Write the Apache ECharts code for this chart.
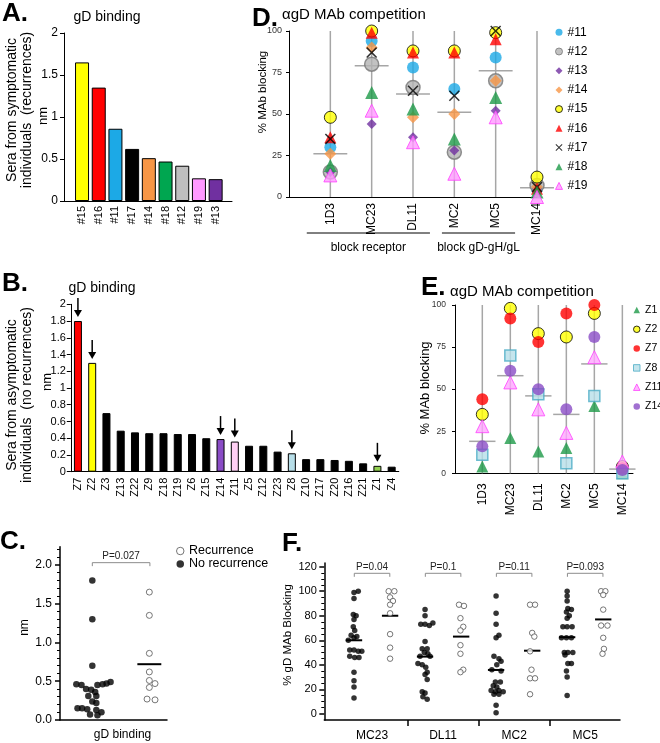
<!DOCTYPE html>
<html>
<head>
<meta charset="utf-8">
<script src="https://cdn.jsdelivr.net/npm/echarts@6.0.0/dist/echarts.min.js"></script>
<style>
html,body{margin:0;padding:0;background:#fff;}
#chart{width:660px;height:743px;}
</style>
</head>
<body>
<div id="chart"></div>
<script>
// ================= DATA =================
// Panel A: gD binding, sera from symptomatic individuals (recurrences)
const aCategories = ['#15','#16','#11','#17','#14','#18','#12','#19','#13'];
const aValues = [1.65,1.35,0.86,0.62,0.51,0.47,0.42,0.27,0.26];

// Panel B: gD binding, sera from asymptomatic individuals (no recurrences)
const bCategories = ['Z7','Z2','Z3','Z13','Z22','Z9','Z18','Z19','Z6','Z15','Z14','Z11','Z5','Z12','Z23','Z8','Z10','Z17','Z20','Z16','Z21','Z1','Z4'];
const bValues = [1.80,1.30,0.70,0.49,0.47,0.46,0.46,0.45,0.45,0.40,0.39,0.36,0.31,0.31,0.24,0.22,0.15,0.15,0.14,0.13,0.10,0.07,0.06];
const bArrowed = ['Z7','Z2','Z14','Z11','Z8','Z1'];

// Panel D: anti-gD MAb competition, recurrence sera
const dCategories = ['1D3','MC23','DL11','MC2','MC5','MC14'];
const dS11 = [30,94,78,65,84,5];
const dS12 = [15,80,66,27,70,7];
const dS13 = [15,44,36,28,52,5];
const dS14 = [26,90,48,50,70,6];
const dS15 = [48,100,88,88,99,12];
const dS16 = [36,99,87,87,95,5];
const dS17 = [35,87,64,61,100,6];
const dS18 = [19,63,53,35,60,3];
const dS19 = [13,52,33,14,48,0];
const dMean = [26,79,62,51,76,5.6];
const dGroupLabels = ['block receptor','block gD-gH/gL'];
const dGroupSpans = [[-0.57,2.41],[2.70,4.47]];

// Panel E: anti-gD MAb competition, non-recurrence sera
const eCategories = ['1D3','MC23','DL11','MC2','MC5','MC14'];
const eZ1 = [4,21,13,15,40,0];
const eZ2 = [35,98,83,81,95,4];
const eZ7 = [44,92,78,95,100,3];
const eZ8 = [11,70,47,6,46,0];
const eZ11 = [28,54,38,24,69,7];
const eZ14 = [16,61,50,38,81,2];
const eMean = [19,58,46,35,65,2.5];

// Panel C: gD binding by group (values = panels B and A), swarm offsets
const cGroupLabel = 'gD binding';
const cNoRecJitter = [0,0,0,0.32,0.25,0.18,-0.28,0.09,-0.19,-0.11,-0.02,0.05,-0.07,0.07,0,0.07,-0.26,-0.18,-0.09,0.07,0.16,-0.04,0.09];
const cRecJitter = [0,0,0,0,0,0.1,0,-0.04,0.1];
const cRecMean = 0.72;
const cPLabel = 'P=0.027';
const cYTicks = [0,0.5,1,1.5,2];

// Panel F: % gD MAb blocking by group
const fCategories = ['MC23','DL11','MC2','MC5'];
const fNoRecMC23 = [100,99,94,81,80,77,71,68,64,63,62,60,52,52,51,51,47,46,46,34,27,22,13];
const fNoRecDL11 = [85,80,74,73,73,72,59,53,53,50,49,47,47,41,40,38,34,32,28,18,17,14,12];
const fNoRecMC2  = [96,82,73,64,62,47,45,43,40,36,35,26,26,23,22,19,19,18,18,16,16,7,1];
const fNoRecMC5  = [100,96,92,86,85,83,80,78,71,71,71,62,62,62,50,50,50,48,41,41,35,30,15];
const fRecMC23 = [100,100,95,92,89,82,65,54,45];
const fRecDL11 = [89,88,78,71,68,56,49,36,34];
const fRecMC2  = [89,89,66,63,51,36,29,29,16];
const fRecMC5  = [100,100,97,85,72,72,62,53,49];
const fJitNoRecMC23 = [0.06,0,0,-0.01,0.03,0,-0.01,0.01,-0.04,0.04,0,-0.08,-0.06,0,0.06,0.11,-0.06,0.01,0.07,0,0,0,0];
const fJitNoRecDL11 = [0,0,0.11,-0.06,0,0.06,0,-0.04,0.03,-0.01,0.04,-0.07,0.07,-0.1,-0.04,0.01,0.03,0,0.03,-0.04,0,-0.03,0.03];
const fJitNoRecMC2  = [0,0,0,0.04,0,-0.03,0.04,0.07,0.01,-0.06,0.07,-0.01,0.06,-0.04,0.01,-0.07,0.04,-0.01,0.1,-0.03,0.04,0,0];
const fJitNoRecMC5  = [0,0,0,0.01,0.06,-0.01,0.03,0,-0.06,0,0.07,-0.08,-0.01,0.06,-0.04,0.01,0.08,-0.03,0.01,0.06,-0.01,0,0];
const fJitRecMC23 = [-0.02,0.06,0,0.04,0,0,0,0,0];
const fJitRecDL11 = [-0.03,0.04,-0.01,0.03,-0.01,-0.01,-0.01,0.03,-0.01];
const fJitRecMC2  = [-0.03,0.04,0,0.03,-0.03,-0.01,-0.03,0.04,-0.03];
const fJitRecMC5  = [-0.03,0.03,0,0,-0.03,0.06,0,0.01,-0.01];
const fMeanNoRec = [60,46.7,35.8,62.5];
const fMeanRec = [80,63,51.5,77];
const fPLabels = ['P=0.04','P=0.1','P=0.11','P=0.093'];
const fPLevel = 114.6;
const fYTicks = [0,20,40,60,80,100,120];

// ================= STYLES =================
const FONT = '"Liberation Sans", Arial, Helvetica, sans-serif';
const aColors = ['#ffff00','#ff0000','#1ca9e6','#000000','#f79646','#00a650','#bfbfbf','#ff99ff','#7030a0'];
const bHighlight = {Z7:'#ff0000', Z2:'#ffff00', Z14:'#8a4cc6', Z11:'#ffd0f4', Z8:'#b7dee8', Z1:'#92d050'};
const XPATH = 'path://M1,0L5,4L9,0L10,1L6,5L10,9L9,10L5,6L1,10L0,9L4,5L0,1Z';
const dStyle = [
  {name:'#11', data:dS11, symbol:'circle', size:12, item:{color:'#1ca9e6'}},
  {name:'#12', data:dS12, symbol:'circle', size:14, item:{color:'#b3b3b3', borderColor:'#777', borderWidth:1.5}},
  {name:'#13', data:dS13, symbol:'diamond', size:10, item:{color:'#7030a0'}},
  {name:'#14', data:dS14, symbol:'diamond', size:12, item:{color:'#f79646'}},
  {name:'#15', data:dS15, symbol:'circle', size:12, item:{color:'#ffff00', borderColor:'#000', borderWidth:1}},
  {name:'#16', data:dS16, symbol:'triangle', size:12, item:{color:'#ff0000'}},
  {name:'#17', data:dS17, symbol:XPATH, size:11, item:{color:'#000'}},
  {name:'#18', data:dS18, symbol:'triangle', size:13, item:{color:'#1e9a48'}},
  {name:'#19', data:dS19, symbol:'triangle', size:13, item:{color:'#ff99ff', borderColor:'#ff40ff', borderWidth:1}}
];
const eStyle = [
  {name:'Z1', data:eZ1, symbol:'triangle', size:12, item:{color:'#1e9a48'}},
  {name:'Z2', data:eZ2, symbol:'circle', size:12, item:{color:'#ffff00', borderColor:'#000', borderWidth:1}},
  {name:'Z7', data:eZ7, symbol:'circle', size:12, item:{color:'#ff0000'}},
  {name:'Z8', data:eZ8, symbol:'rect', size:11, item:{color:'#b7dee8', borderColor:'#4bacc6', borderWidth:1.5}},
  {name:'Z11', data:eZ11, symbol:'triangle', size:13, item:{color:'#ffa6ff', borderColor:'#ff40ff', borderWidth:1}},
  {name:'Z14', data:eZ14, symbol:'circle', size:12, item:{color:'#8a4cc6'}}
];

// ================= HELPERS =================
function txt(text, x, y, o) {
  o = o || {};
  const al = o.align || 'center';
  return {type:'text', x:x, y:y, rotation:o.rot || 0, silent:true, z:10,
    style:{text:text, fill:o.color || '#000',
      font:(o.weight || 'normal') + ' ' + (o.size || 12) + 'px ' + FONT,
      align:al, textAlign:al, verticalAlign:'middle', textVerticalAlign:'middle',
      lineHeight:o.lh}};
}
const ROT = Math.PI / 2;

function stemRender(halfW) {
  return function (params, api) {
    const i = api.value(0), m = api.value(1);
    const p0 = api.coord([i, 0]), p1 = api.coord([i, 100]);
    const a = api.coord([i - halfW, m]), b = api.coord([i + halfW, m]);
    const st = {stroke:'#a6a6a6', lineWidth:1.5};
    return {type:'group', children:[
      {type:'line', shape:{x1:p0[0], y1:p0[1], x2:p1[0], y2:p1[1]}, style:st},
      {type:'line', shape:{x1:a[0], y1:a[1], x2:b[0], y2:b[1]}, style:st}
    ]};
  };
}
function meanRender(halfW) {
  return function (params, api) {
    const x = api.value(0), m = api.value(1);
    const a = api.coord([x - halfW, m]), b = api.coord([x + halfW, m]);
    return {type:'line', shape:{x1:a[0], y1:a[1], x2:b[0], y2:b[1]}, style:{stroke:'#000', lineWidth:2}};
  };
}
function bracketRender(labels) {
  return function (params, api) {
    const a = api.coord([api.value(0), api.value(2)]), b = api.coord([api.value(1), api.value(2)]);
    return {type:'group', children:[
      {type:'polyline', shape:{points:[[a[0], a[1] + 3.5], [a[0], a[1]], [b[0], b[1]], [b[0], b[1] + 3.5]]},
        style:{stroke:'#8c8c8c', lineWidth:1, fill:null}},
      {type:'text', x:(a[0] + b[0]) / 2, y:a[1] - 6.5,
        style:{text:labels[params.dataIndex], fill:'#222', font:'10px ' + FONT, align:'center', verticalAlign:'middle'}}
    ]};
  };
}
function axisLineStyle(w) { return {show:true, onZero:false, lineStyle:{color:'#000', width:w || 1}}; }
const NOLINE = {show:false, onZero:false};
function legendItems(styles) {
  return styles.map(s => ({name:s.name, icon:s.symbol,
    itemStyle:Object.assign({}, s.item, s.item.borderWidth ? {borderWidth:1} : {})}));
}

// ================= OPTION =================
const grids = [
  {left:64, top:33, width:168, height:168},        // A
  {left:289, top:31, width:248, height:166},       // D
  {left:70.8, top:304.3, width:328, height:167.4}, // B
  {left:455, top:305, width:178, height:168.3},    // E
  {left:60, top:546.7, width:107, height:173.3},   // C
  {left:324.3, top:563, width:295.7, height:157}   // F
];

const xAxes = [
  {gridIndex:0, type:'value', min:-1.08, max:8.98, axisLine:axisLineStyle(1), axisTick:{show:false}, splitLine:{show:false},
    axisLabel:{customValues:aCategories.map((c, i) => i), formatter:v => aCategories[Math.round(v)], rotate:90, fontSize:11, margin:5, color:'#000'}},
  {gridIndex:1, type:'value', min:-1, max:5, axisLine:axisLineStyle(1), axisTick:{show:false}, splitLine:{show:false},
    axisLabel:{customValues:dCategories.map((c, i) => i), formatter:v => dCategories[Math.round(v)], rotate:90, fontSize:12, margin:6, color:'#000'}},
  {gridIndex:2, type:'category', data:bCategories, axisLine:axisLineStyle(1), axisTick:{show:false},
    axisLabel:{interval:0, rotate:90, fontSize:11, margin:6, color:'#000'}},
  {gridIndex:3, type:'value', min:-0.975, max:5.38, axisLine:axisLineStyle(1), axisTick:{show:false}, splitLine:{show:false},
    axisLabel:{customValues:eCategories.map((c, i) => i), formatter:v => eCategories[Math.round(v)], rotate:90, fontSize:12, margin:10, color:'#000'}},
  {gridIndex:4, type:'value', min:-0.567, max:1.31, axisLine:axisLineStyle(1.5), axisTick:{show:false}, splitLine:{show:false},
    axisLabel:{customValues:[0.53], formatter:() => cGroupLabel, fontSize:12, margin:9, color:'#000'}},
  {gridIndex:5, type:'value', min:-0.672, max:3.49, axisLine:axisLineStyle(1.5), splitLine:{show:false},
    axisTick:{show:true, customValues:[0.5,1.5,2.5], length:6, lineStyle:{color:'#000', width:1.5}},
    axisLabel:{customValues:fCategories.map((c, i) => i), formatter:v => fCategories[Math.round(v)], fontSize:12, margin:10, color:'#000'}}
];

const cMinor = []; for (let k = 1; k <= 22; k++) { if (k % 5) cMinor.push(k / 10); }
const fMinor = []; for (let k = 5; k <= 120; k += 5) { if (k % 20) fMinor.push(k); }

const yAxes = [
  {gridIndex:0, type:'value', position:'left', min:0, max:2, interval:0.5, axisLine:axisLineStyle(1), axisTick:{show:true, length:4, lineStyle:{color:'#000'}},
    splitLine:{show:false}, axisLabel:{fontSize:12, margin:6, color:'#000'}},
  {gridIndex:1, type:'value', position:'left', min:0, max:100, interval:25, axisLine:axisLineStyle(1), axisTick:{show:true, length:3, lineStyle:{color:'#000'}},
    splitLine:{show:false}, axisLabel:{fontSize:9, margin:7, color:'#333'}},
  {gridIndex:2, type:'value', position:'left', min:0, max:2, interval:0.2, axisLine:axisLineStyle(1), axisTick:{show:true, length:4, lineStyle:{color:'#000'}},
    splitLine:{show:false}, axisLabel:{fontSize:11, margin:5, color:'#000'}},
  {gridIndex:3, type:'value', position:'left', min:0, max:100, interval:25, axisLine:axisLineStyle(1), axisTick:{show:true, length:3, lineStyle:{color:'#000'}},
    splitLine:{show:false}, axisLabel:{fontSize:8.5, margin:9, color:'#333'}},
  {gridIndex:4, type:'value', position:'left', min:0, max:2.236, axisLine:axisLineStyle(1.5), splitLine:{show:false},
    axisTick:{show:true, customValues:cYTicks, length:5, lineStyle:{color:'#000', width:1.5}},
    axisLabel:{customValues:cYTicks, formatter:v => v.toFixed(1), fontSize:12, margin:8, color:'#000'}},
  {gridIndex:4, type:'value', position:'left', min:0, max:2.236, axisLine:NOLINE, splitLine:{show:false}, axisLabel:{show:false},
    axisTick:{show:true, customValues:cMinor, length:3, lineStyle:{color:'#000', width:1}}},
  {gridIndex:5, type:'value', position:'left', min:-5, max:123, axisLine:axisLineStyle(1.5), splitLine:{show:false},
    axisTick:{show:true, customValues:fYTicks, length:5, lineStyle:{color:'#000', width:1.5}},
    axisLabel:{customValues:fYTicks, fontSize:11, margin:7.5, color:'#000'}},
  {gridIndex:5, type:'value', position:'left', min:-5, max:123, axisLine:NOLINE, splitLine:{show:false}, axisLabel:{show:false},
    axisTick:{show:true, customValues:fMinor, length:3, lineStyle:{color:'#000', width:1}}}
];

const series = [];
// A bars
series.push({type:'bar', xAxisIndex:0, yAxisIndex:0, barWidth:14, silent:true,
  itemStyle:{borderColor:'#000', borderWidth:1},
  data:aValues.map((v, i) => ({value:[i, v], itemStyle:{color:aColors[i]}}))});
// B bars
series.push({type:'bar', xAxisIndex:2, yAxisIndex:2, barWidth:8, silent:true,
  itemStyle:{borderColor:'#000', borderWidth:1},
  data:bValues.map((v, i) => ({value:v, itemStyle:{color:bHighlight[bCategories[i]] || '#000'}}))});
// B arrows
series.push({type:'custom', xAxisIndex:2, yAxisIndex:2, silent:true,
  data:bArrowed.map(n => [bCategories.indexOf(n), bValues[bCategories.indexOf(n)]]),
  renderItem:function (params, api) {
    const pt = api.coord([api.value(0), api.value(1)]);
    const x = pt[0], tip = pt[1] - 4, top = tip - 19;
    return {type:'group', children:[
      {type:'line', shape:{x1:x, y1:top, x2:x, y2:tip - 5}, style:{stroke:'#000', lineWidth:1.5}},
      {type:'polygon', shape:{points:[[x - 4, tip - 7], [x + 4, tip - 7], [x, tip]]}, style:{fill:'#000'}}
    ]};
  }});
// D stems + means
series.push({type:'custom', xAxisIndex:1, yAxisIndex:1, z:1, silent:true,
  data:dMean.map((m, i) => [i, m]), renderItem:stemRender(0.41)});
// D group underlines
series.push({type:'custom', xAxisIndex:1, yAxisIndex:1, silent:true,
  data:dGroupSpans.map(s => [s[0], s[1]]),
  renderItem:function (params, api) {
    const a = api.coord([api.value(0), 0]), b = api.coord([api.value(1), 0]);
    return {type:'group', children:[
      {type:'line', shape:{x1:a[0], y1:a[1] + 36, x2:b[0], y2:b[1] + 36}, style:{stroke:'#000', lineWidth:1}},
      {type:'text', x:(a[0] + b[0]) / 2, y:a[1] + 51,
        style:{text:dGroupLabels[params.dataIndex], fill:'#000', font:'12px ' + FONT, align:'center', verticalAlign:'middle'}}
    ]};
  }});
dStyle.forEach(s => series.push({name:s.name, type:'scatter', xAxisIndex:1, yAxisIndex:1, clip:false, silent:true,
  symbol:s.symbol, symbolSize:s.size, itemStyle:s.item, data:s.data.map((v, i) => [i, v])}));
// E stems + means
series.push({type:'custom', xAxisIndex:3, yAxisIndex:3, z:1, silent:true,
  data:eMean.map((m, i) => [i, m]), renderItem:stemRender(0.47)});
eStyle.forEach(s => series.push({name:s.name, type:'scatter', xAxisIndex:3, yAxisIndex:3, clip:false, silent:true,
  symbol:s.symbol, symbolSize:s.size, itemStyle:s.item, data:s.data.map((v, i) => [i, v])}));
// C
series.push({name:'No recurrence', type:'scatter', xAxisIndex:4, yAxisIndex:4, clip:false, silent:true,
  symbol:'circle', symbolSize:6.5, itemStyle:{color:'#000'},
  data:bValues.map((v, i) => [0 + cNoRecJitter[i], v])});
series.push({name:'Recurrence', type:'scatter', xAxisIndex:4, yAxisIndex:4, clip:false, silent:true,
  symbol:'circle', symbolSize:6, itemStyle:{color:'#fff', borderColor:'#555', borderWidth:1},
  data:aValues.map((v, i) => [1 + cRecJitter[i], v])});
series.push({type:'custom', xAxisIndex:4, yAxisIndex:4, silent:true, data:[[1, cRecMean]], renderItem:meanRender(0.21)});
series.push({type:'custom', xAxisIndex:4, yAxisIndex:4, silent:true, data:[[0, 1.01, 2.03]], renderItem:bracketRender([cPLabel])});
// F
const fNoRec = [fNoRecMC23, fNoRecDL11, fNoRecMC2, fNoRecMC5];
const fRec = [fRecMC23, fRecDL11, fRecMC2, fRecMC5];
const fJitNo = [fJitNoRecMC23, fJitNoRecDL11, fJitNoRecMC2, fJitNoRecMC5];
const fJitRec = [fJitRecMC23, fJitRecDL11, fJitRecMC2, fJitRecMC5];
const fNoData = [], fRecData = [];
fCategories.forEach((c, g) => {
  fNoRec[g].forEach((v, k) => fNoData.push([g - 0.254 + fJitNo[g][k], v]));
  fRec[g].forEach((v, k) => fRecData.push([g + 0.254 + fJitRec[g][k], v]));
});
series.push({name:'F no recurrence', type:'scatter', xAxisIndex:5, yAxisIndex:6, clip:false, silent:true,
  symbol:'circle', symbolSize:5.5, itemStyle:{color:'#000'}, data:fNoData});
series.push({name:'F recurrence', type:'scatter', xAxisIndex:5, yAxisIndex:6, clip:false, silent:true,
  symbol:'circle', symbolSize:5.5, itemStyle:{color:'#fff', borderColor:'#555', borderWidth:1}, data:fRecData});
series.push({type:'custom', xAxisIndex:5, yAxisIndex:6, silent:true,
  data:fMeanNoRec.map((m, g) => [g - 0.254, m]).concat(fMeanRec.map((m, g) => [g + 0.254, m])),
  renderItem:meanRender(0.115)});
series.push({type:'custom', xAxisIndex:5, yAxisIndex:6, silent:true,
  data:fCategories.map((c, g) => [g - 0.25, g + 0.25, fPLevel]), renderItem:bracketRender(fPLabels)});

const legends = [
  {data:legendItems(dStyle), orient:'vertical', left:555, top:25.3, padding:0, itemWidth:7, itemHeight:7, itemGap:5.2,
    selectedMode:false, textStyle:{fontSize:12, lineHeight:14, color:'#000', fontFamily:FONT}},
  {data:legendItems(eStyle), orient:'vertical', left:633, top:303, padding:0, itemWidth:6.5, itemHeight:6.5, itemGap:5.3,
    selectedMode:false, textStyle:{fontSize:10.5, lineHeight:14, color:'#000', fontFamily:FONT}},
  {data:[{name:'Recurrence', icon:'circle', itemStyle:{color:'#fff', borderColor:'#555', borderWidth:1}},
         {name:'No recurrence', icon:'circle', itemStyle:{color:'#000'}}],
    orient:'vertical', left:176, top:544.5, padding:0, itemWidth:7.5, itemHeight:7.5, itemGap:0,
    selectedMode:false, textStyle:{fontSize:12.5, lineHeight:10, color:'#000', fontFamily:FONT}}
];

const graphics = [
  txt('A.', 2, 14, {size:26, weight:'bold', align:'left'}),
  txt('gD binding', 107, 17, {size:14}),
  txt('nm', 43, 116, {size:13, rot:ROT}),
  txt('Sera from symptomatic\nindividuals  (recurrences)', 19.5, 110, {size:14, rot:ROT, lh:15}),
  txt('D.', 252, 18.5, {size:26, weight:'bold', align:'left'}),
  txt('\u03B1gD MAb competition', 282, 15, {size:15, align:'left'}),
  txt('% MAb blocking', 263, 92, {size:11.5, rot:ROT}),
  txt('B.', 2, 284, {size:26, weight:'bold', align:'left'}),
  txt('gD binding', 102, 288, {size:14}),
  txt('nm', 47, 382, {size:13, rot:ROT}),
  txt('Sera from asymptomatic\nindividuals  (no recurrences)', 19.5, 395, {size:14, rot:ROT, lh:15}),
  txt('E.', 421, 287.5, {size:26, weight:'bold', align:'left'}),
  txt('\u03B1gD MAb competition', 450, 291.7, {size:15, align:'left'}),
  txt('% MAb blocking', 425, 388, {size:13, rot:ROT}),
  txt('C.', 0, 541.5, {size:26, weight:'bold', align:'left'}),
  txt('nm', 25, 627.5, {size:12, rot:ROT}),
  txt('F.', 282, 543.5, {size:26, weight:'bold', align:'left'}),
  txt('% gD MAb Blocking', 288, 635, {size:11.5, rot:ROT})
];

const option = {
  animation:false,
  backgroundColor:'#fff',
  textStyle:{fontFamily:FONT},
  grid:grids,
  xAxis:xAxes,
  yAxis:yAxes,
  legend:legends,
  graphic:graphics,
  series:series
};

const chart = echarts.init(document.getElementById('chart'), null, {renderer:'canvas', width:660, height:743});
chart.setOption(option);
</script>
</body>
</html>
